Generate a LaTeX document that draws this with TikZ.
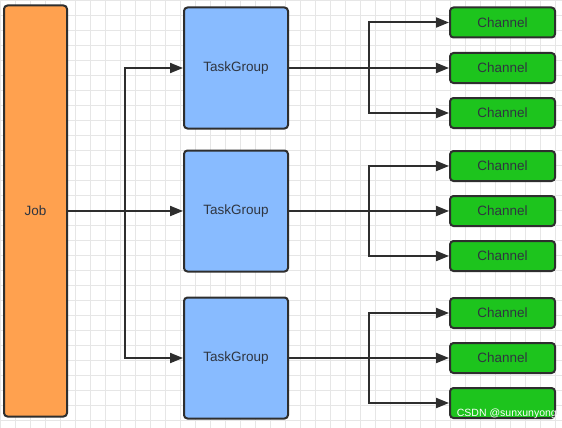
\documentclass[tikz,border=0pt]{standalone}
\usepackage{fontspec}
\setmainfont{Liberation Sans}
\usetikzlibrary{arrows.meta}
\definecolor{jobfill}{HTML}{FFA14F}
\definecolor{groupfill}{HTML}{88BBFF}
\definecolor{chanfill}{HTML}{1DC41D}
\definecolor{gridline}{HTML}{E6E6E6}
\definecolor{edgeline}{HTML}{2E2E2E}
\definecolor{labeltext}{HTML}{2F3540}

\begin{document}
\begin{tikzpicture}[x=1pt, y=-1pt,
    box/.style={draw=edgeline, line width=2pt, rounded corners=3.5pt,
        text=labeltext, font=\fontsize{13.5}{15}\selectfont, inner sep=0pt},
    job/.style={box, fill=jobfill, minimum width=63pt, minimum height=411pt},
    group/.style={box, fill=groupfill, minimum width=104pt, minimum height=121pt},
    chan/.style={box, fill=chanfill, minimum width=105pt, minimum height=30pt},
    link/.style={draw=edgeline, line width=2pt, -{Triangle[length=13pt,width=10pt]}}]
        \useasboundingbox (0,0) rectangle (562,428);
        % Draw background grid
            \fill[white] (0,0) rectangle (562,428);
            \draw[gridline, line width=0.7pt] (0,0) grid[step=15pt] (562,428);
        % Draw job and task groups
            \node[job] (job) at (35.5,211) {Job};
            \node[group] (tg1) at (236,68) {TaskGroup};
            \node[group] (tg2) at (236,211) {TaskGroup};
            \node[group] (tg3) at (236,358) {TaskGroup};
        % Draw channels
            \node[chan] (ch11) at (502.5,22.5) {Channel};
            \node[chan] (ch12) at (502.5,68) {Channel};
            \node[chan] (ch13) at (502.5,113) {Channel};
            \node[chan] (ch21) at (502.5,166) {Channel};
            \node[chan] (ch22) at (502.5,211) {Channel};
            \node[chan] (ch23) at (502.5,256) {Channel};
            \node[chan] (ch31) at (502.5,313) {Channel};
            \node[chan] (ch32) at (502.5,358) {Channel};
            \node[chan] (ch33) at (502.5,403) {};
        % Job to task groups
            \coordinate (split) at (125,211);
            \draw[link] (job) -- (tg2);
            \draw[link] (split) |- (tg1.west);
            \draw[link] (split) |- (tg3.west);
        % Task groups to channels
            \foreach \g in {1,2,3} {
                \coordinate (fork\g) at (369,0 |- tg\g.center);
                \draw[link] (tg\g) -- (ch\g2);
                \draw[link] (fork\g) |- (ch\g1.west);
                \draw[link] (fork\g) |- (ch\g3.west);
            }
        % Watermark
            \node[text=white, font=\fontsize{10.5}{12}\selectfont, anchor=east, inner sep=0pt] (mark)
                at (557,414) {CSDN @sunxunyong};
    \end{tikzpicture}
\end{document}
